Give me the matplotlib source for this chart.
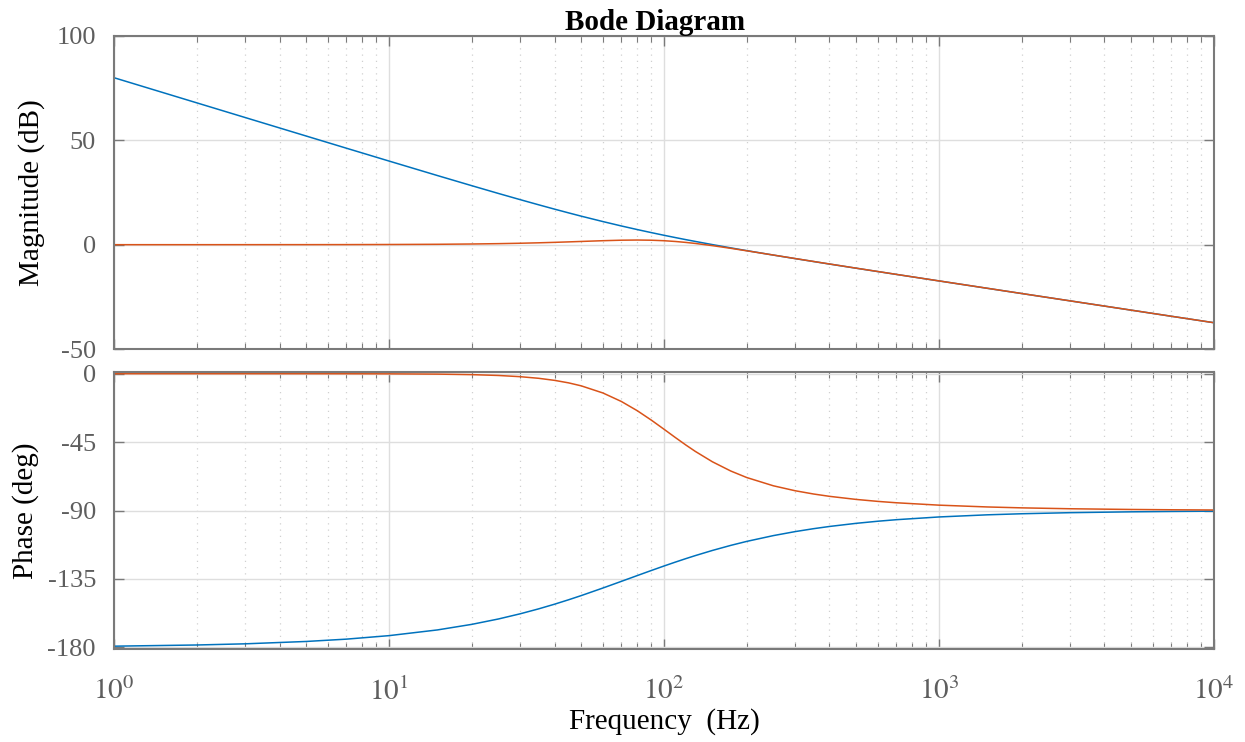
import numpy as np
import matplotlib
matplotlib.use("Agg")
import matplotlib.pyplot as plt
from matplotlib.ticker import LogLocator, FixedLocator, NullFormatter

plt.rc('font', family='Liberation Serif')
plt.rc('mathtext', fontset='stix')

# values
freq = [1, 2, 3, 5, 7, 10, 15, 20, 25, 30, 35, 40, 45, 50, 60, 70, 80, 90, 100,
        110, 120, 130, 150, 175, 200, 250, 300, 350, 400, 500, 600, 700, 1000,
        1500, 2000, 3000, 5000, 7000, 10000]
mag_open = [80.0, 67.96, 60.92, 52.06, 46.23, 40.08, 33.13, 28.27, 24.55, 21.58,
            19.12, 17.03, 15.24, 13.67, 11.07, 8.97, 7.24, 5.78, 4.51, 3.41, 2.43,
            1.56, 0.04, -1.53, -2.85, -4.98, -6.67, -8.07, -9.28, -11.27, -12.88,
            -14.24, -17.36, -20.90, -23.40, -26.92, -31.36, -34.29, -37.38]
mag_closed = [0.0, 0.0, 0.01, 0.02, 0.04, 0.09, 0.19, 0.33, 0.50, 0.69, 0.90, 1.12,
              1.34, 1.55, 1.91, 2.15, 2.23, 2.14, 1.90, 1.54, 1.09, 0.60, -0.45,
              -1.74, -2.93, -4.97, -6.64, -8.04, -9.25, -11.25, -12.86, -14.23,
              -17.35, -20.89, -23.40, -26.92, -31.36, -34.29, -37.38]
ph_open = [-179.23, -178.45, -177.68, -176.13, -174.60, -172.30, -168.54, -164.88,
           -161.34, -157.93, -154.69, -151.61, -148.70, -145.96, -140.96, -136.59,
           -132.77, -129.43, -126.50, -123.93, -121.66, -119.65, -116.26, -112.92,
           -110.30, -106.49, -103.86, -101.94, -100.48, -98.42, -97.03, -96.03,
           -94.23, -92.82, -92.12, -91.41, -90.85, -90.61, -90.42]
ph_closed = [0.0, 0.0, 0.0, -0.01, -0.03, -0.08, -0.26, -0.60, -1.15, -1.95, -3.01,
             -4.37, -6.02, -7.97, -12.68, -18.26, -24.35, -30.55, -36.50, -41.97,
             -46.84, -51.09, -57.92, -64.01, -68.29, -73.73, -76.98, -79.13, -80.66,
             -82.69, -83.99, -84.89, -86.46, -87.65, -88.24, -88.83, -89.30, -89.50,
             -89.65]
xticks = [1, 10, 100, 1000, 10000]
xticklabels = ['$10^{0}$', '$10^{1}$', '$10^{2}$', '$10^{3}$', '$10^{4}$']
mag_ticks = [100, 50, 0, -50]
ph_ticks = [0, -45, -90, -135, -180]

blue = '#0072BD'
red = '#D95319'
axcol = '#7a7a7a'
labcol = '#5e5e5e'

fig = plt.figure(figsize=(12.45, 7.42), dpi=100)
ax1 = fig.add_axes([0.0916, 0.5296, 0.8834, 0.4219])
ax2 = fig.add_axes([0.0916, 0.1249, 0.8834, 0.3741])

def style(ax):
    ax.set_xscale('log')
    ax.set_xlim(1, 10000)
    for s in ax.spines.values():
        s.set_color(axcol)
        s.set_linewidth(1.5)
    ax.tick_params(which='both', direction='in', top=True, right=True,
                   colors=axcol, labelcolor=labcol, labelsize=19)
    ax.tick_params(axis='y', pad=13)
    ax.tick_params(which='major', length=7, width=1.0)
    ax.tick_params(which='minor', length=4, width=0.8)
    ax.xaxis.set_major_locator(FixedLocator(xticks))
    ax.xaxis.set_minor_locator(LogLocator(base=10, subs=np.arange(2, 10), numticks=20))
    ax.xaxis.set_minor_formatter(NullFormatter())
    ax.grid(which='major', color='#dedede', linewidth=1.0)
    ax.grid(which='minor', axis='x', color='#d0d0d0', linestyle=(0, (1, 4)), linewidth=0.9)
    ax.set_axisbelow(True)

style(ax1)
ax1.plot(freq, mag_open, color=blue, lw=1.1)
ax1.plot(freq, mag_closed, color=red, lw=1.1)
ax1.set_ylim(-50, 100)
ax1.set_yticks(mag_ticks)
ax1.set_yticklabels([str(t) for t in mag_ticks])
ax1.set_xticklabels([])
ax1.set_ylabel('Magnitude (dB)', fontsize=21, color='black', labelpad=8)
ax1.set_title('Bode Diagram', fontsize=21, fontweight='bold', pad=2, x=0.492)

style(ax2)
ax2.plot(freq, ph_open, color=blue, lw=1.1)
ax2.plot(freq, ph_closed, color=red, lw=1.1)
ax2.set_ylim(-181.3, 1.3)
ax2.set_yticks(ph_ticks)
ax2.set_yticklabels([str(t) for t in ph_ticks])
ax2.set_xticklabels(xticklabels)
ax2.tick_params(axis='x', pad=20, labelsize=21)
ax2.set_ylabel('Phase (deg)', fontsize=21, color='black', labelpad=6)
ax2.set_xlabel('Frequency  (Hz)', fontsize=21, color='black', labelpad=2)

plt.savefig('out.png', dpi=100)
print("Done!")
